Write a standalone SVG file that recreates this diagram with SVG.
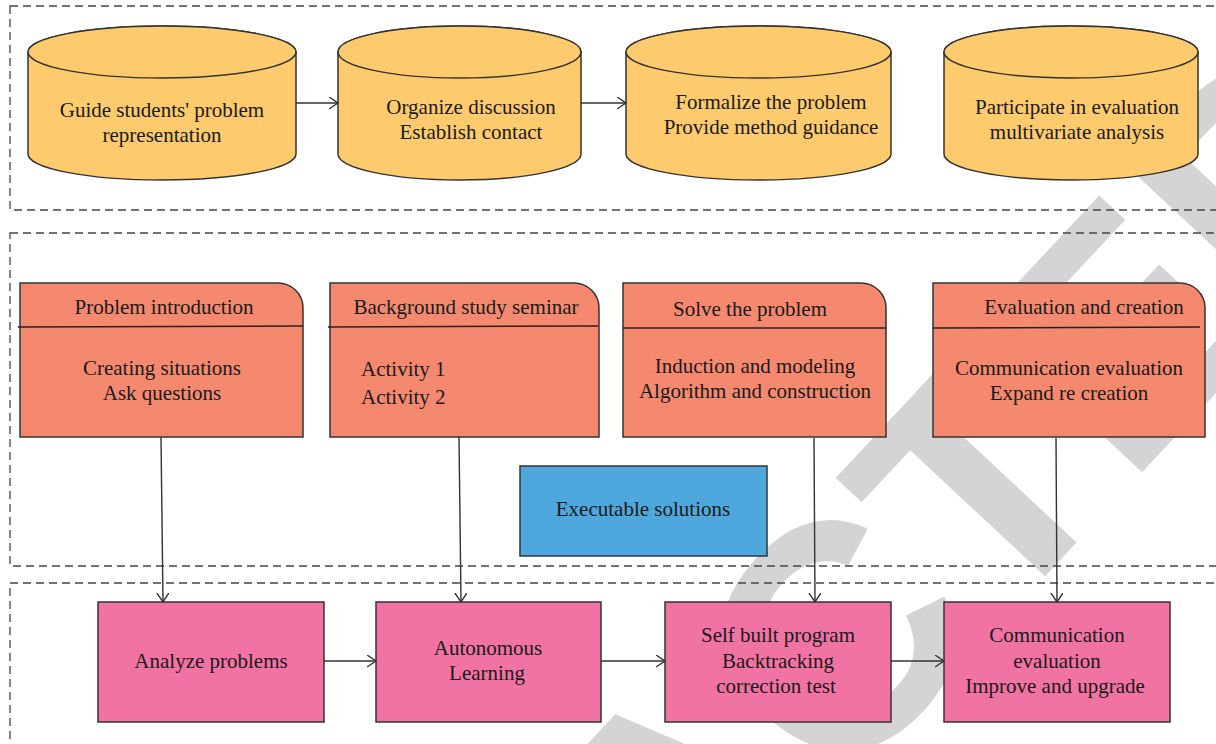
<svg xmlns="http://www.w3.org/2000/svg" width="1216" height="744" viewBox="0 0 1216 744">
<defs>
<style>
.sec{fill:none;stroke:#444;stroke-width:1.3;stroke-dasharray:8 5}
.cyl{fill:#FDCA6D;stroke:#333;stroke-width:1.5}
.card{fill:#F5896F;stroke:#333;stroke-width:1.5}
.pink{fill:#F173A3;stroke:#333;stroke-width:1.5}
.blue{fill:#4EA8DD;stroke:#333;stroke-width:1.5}
.div{stroke:#222;stroke-width:1.5}
.t{font-family:"Liberation Serif","Times New Roman",serif;font-size:21px;fill:#1a1a1a;text-anchor:middle}
.tl{font-family:"Liberation Serif","Times New Roman",serif;font-size:21px;fill:#1a1a1a;text-anchor:start}
.conn{fill:none;stroke:#333;stroke-width:1.4}
.wm{font-family:"Liberation Sans",Arial,sans-serif;font-weight:bold;font-size:320px;fill:#d4d4d4}
</style>
<marker id="arr" markerUnits="userSpaceOnUse" markerWidth="12" markerHeight="14" refX="9" refY="6" orient="auto">
<path d="M0,0 L9,6 L0,12" fill="none" stroke="#333" stroke-width="1.4"/>
</marker>
</defs>
<rect width="1216" height="744" fill="#fff"/>
<g id="watermark">
<text class="wm" transform="translate(994,631) rotate(-47)" x="-1333" y="0">RETRACTED</text>
</g>
<g id="sections">
<rect class="sec" x="10" y="6" width="1230" height="204"/>
<rect class="sec" x="10" y="233" width="1230" height="333"/>
<rect class="sec" x="10" y="583" width="1230" height="200"/>
</g>
<g id="cyl1">
<path class="cyl" d="M28,52 V154 A134,26 0 0 0 296,154 V52 A134,26 0 0 0 28,52 Z"/>
<ellipse class="cyl" cx="162" cy="52" rx="134" ry="26"/>
<text class="t" x="162" y="116.5">Guide students' problem</text>
<text class="t" x="162" y="141.5">representation</text>
</g>
<g id="cyl2">
<path class="cyl" d="M338,52 V154 A121.5,26 0 0 0 581,154 V52 A121.5,26 0 0 0 338,52 Z"/>
<ellipse class="cyl" cx="459.5" cy="52" rx="121.5" ry="26"/>
<text class="t" x="471" y="113.5">Organize discussion</text>
<text class="t" x="471" y="138.5">Establish contact</text>
</g>
<g id="cyl3">
<path class="cyl" d="M626,52 V154 A132.5,26 0 0 0 891,154 V52 A132.5,26 0 0 0 626,52 Z"/>
<ellipse class="cyl" cx="758.5" cy="52" rx="132.5" ry="26"/>
<text class="t" x="771" y="108.5">Formalize the problem</text>
<text class="t" x="771" y="133.5">Provide method guidance</text>
</g>
<g id="cyl4">
<path class="cyl" d="M944,52 V154 A127,26 0 0 0 1198,154 V52 A127,26 0 0 0 944,52 Z"/>
<ellipse class="cyl" cx="1071" cy="52" rx="127" ry="26"/>
<text class="t" x="1077" y="113.5">Participate in evaluation</text>
<text class="t" x="1077" y="138.5">multivariate analysis</text>
</g>
<g id="card1">
<path class="card" d="M20,283 H278 A25,25 0 0 1 303,308 V437 H20 Z"/>
<line class="div" x1="18" y1="327" x2="303" y2="326"/>
<text class="t" x="164" y="313.5">Problem introduction</text>
<text class="t" x="162" y="374.5">Creating situations</text>
<text class="t" x="162" y="399.5">Ask questions</text>
</g>
<g id="card2">
<path class="card" d="M330,283 H574 A25,25 0 0 1 599,308 V437 H330 Z"/>
<line class="div" x1="328" y1="327" x2="598" y2="326"/>
<text class="t" x="466" y="313.5">Background study seminar</text>
<text class="tl" x="361" y="375.5">Activity 1</text>
<text class="tl" x="361" y="403.5">Activity 2</text>
</g>
<g id="card3">
<path class="card" d="M623,283 H861 A25,25 0 0 1 886,308 V437 H623 Z"/>
<line class="div" x1="623" y1="328" x2="886" y2="328"/>
<text class="t" x="750" y="315.5">Solve the problem</text>
<text class="t" x="755" y="372.5">Induction and modeling</text>
<text class="t" x="755" y="397.5">Algorithm and construction</text>
</g>
<g id="card4">
<path class="card" d="M933,283 H1180 A25,25 0 0 1 1205,308 V437 H933 Z"/>
<line class="div" x1="933" y1="328" x2="1200" y2="327"/>
<text class="t" x="1084" y="313.5">Evaluation and creation</text>
<text class="t" x="1069" y="374.5">Communication evaluation</text>
<text class="t" x="1069" y="399.5">Expand re creation</text>
</g>
<g id="exec">
<rect class="blue" x="520" y="466" width="247" height="90"/>
<text class="t" x="643" y="515.5">Executable solutions</text>
</g>
<g id="analyze">
<rect class="pink" x="98" y="602" width="226" height="120"/>
<text class="t" x="211" y="667.5">Analyze problems</text>
</g>
<g id="autonomous">
<rect class="pink" x="376" y="602" width="225" height="120"/>
<text class="t" x="488" y="654.5">Autonomous</text>
<text class="t" x="487" y="679.5">Learning</text>
</g>
<g id="selfbuilt">
<rect class="pink" x="665" y="602" width="226" height="120"/>
<text class="t" x="778" y="641.5">Self built program</text>
<text class="t" x="778" y="667.5">Backtracking</text>
<text class="t" x="776" y="692.5">correction test</text>
</g>
<g id="communication">
<rect class="pink" x="944" y="602" width="226" height="120"/>
<text class="t" x="1057" y="641.5">Communication</text>
<text class="t" x="1057" y="667.5">evaluation</text>
<text class="t" x="1055" y="692.5">Improve and upgrade</text>
</g>
<g id="connectors">
<line class="conn" x1="296" y1="103" x2="338" y2="103" marker-end="url(#arr)"/>
<line class="conn" x1="581" y1="103" x2="626" y2="103" marker-end="url(#arr)"/>
<line class="conn" x1="161" y1="437" x2="163" y2="602" marker-end="url(#arr)"/>
<line class="conn" x1="459" y1="437" x2="461" y2="602" marker-end="url(#arr)"/>
<line class="conn" x1="814" y1="438" x2="815" y2="602" marker-end="url(#arr)"/>
<line class="conn" x1="1056" y1="438" x2="1057" y2="602" marker-end="url(#arr)"/>
<line class="conn" x1="324" y1="661" x2="376" y2="661" marker-end="url(#arr)"/>
<line class="conn" x1="601" y1="661" x2="665" y2="661" marker-end="url(#arr)"/>
<line class="conn" x1="891" y1="661" x2="944" y2="661" marker-end="url(#arr)"/>
</g>
</svg>
